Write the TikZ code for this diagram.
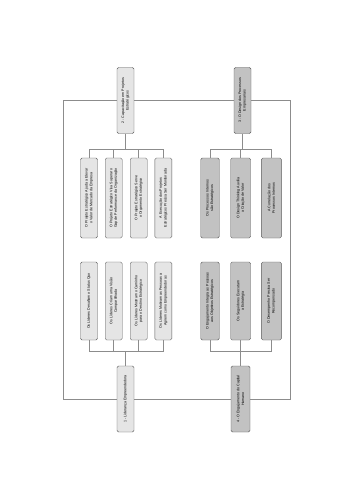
\documentclass[tikz,border=0pt]{standalone}
\usepackage{fontspec}
\setmainfont{Liberation Sans}
\usepackage{tikz}
\usetikzlibrary{positioning}

\begin{document}
\begin{tikzpicture}[
    x=1pt, y=-1pt,
    box/.style={draw=black!65, rectangle, rounded corners=1.5pt, rotate=90, align=center,
        font=\fontsize{3.6}{4.6}\selectfont, inner sep=1pt, line width=0.4pt},
    mainbox/.style={box, minimum width=66pt, minimum height=17pt},
    leaf/.style={box, minimum width=80pt, minimum height=17pt},
    lite/.style={fill=black!10},
    dark/.style={fill=black!24},
    link/.style={draw=black!45, line width=0.5pt}
]
\useasboundingbox (0,0) rectangle (348,500);
% 1. Main themes
\node[mainbox, lite] (lid) at (125.5,399) {1 - Liderança Empreendedora};
\node[mainbox, lite] (cap) at (125.5,100.5) {2 - Capacitação em Projetos\\Estratégicos};
\node[mainbox, dark] (des) at (242.5,100.5) {3 - O Design dos Processos\\Empresariais};
\node[mainbox, dark, minimum height=19pt] (eng) at (240.5,399) {4 - O Engajamento do Capital\\Humano};
% 2. Leaves of theme 2
\node[leaf, lite] (cap1) at (89,198) {O Projeto Estratégico Ajuda a Elevar\\o Valor de Mercado da Empresa};
\node[leaf, lite] (cap2) at (113.7,198) {O Projeto Estratégico Visa Superar o\\Gap de Performance da Organização};
\node[leaf, lite] (cap3) at (138.7,198) {O Projeto Estratégico Serve\\o Orçamento Estratégico};
\node[leaf, lite] (cap4) at (163.3,198) {A Execução dos Projetos\\Estratégicos Precisa Ser Monitorada};
% 3. Leaves of theme 3
\node[leaf, dark, minimum height=18.5pt] (des1) at (210,198) {Os Processos Internos\\são Estratégicos};
\node[leaf, dark, minimum height=20pt] (des2) at (240.7,198) {O Design Thinking Auxilia\\a Criação de Valor};
\node[leaf, dark, minimum height=20pt] (des3) at (271.3,198) {A Correlação dos\\Processos Internos};
% 4. Leaves of theme 1
\node[leaf, lite, minimum width=78pt] (lid1) at (89,301) {Os Líderes Desafiam o Status Quo};
\node[leaf, lite, minimum width=78pt] (lid2) at (113.7,301) {Os Líderes Criam uma Visão\\Compartilhada};
\node[leaf, lite, minimum width=78pt] (lid3) at (138.7,301) {Os Líderes Mostram o Caminho\\para o Destino Estratégico};
\node[leaf, lite, minimum width=78pt] (lid4) at (163.3,301) {Os Líderes Motivam as Pessoas a\\Agirem como Empreendedoras};
% 5. Leaves of theme 4
\node[leaf, dark, minimum width=78pt, minimum height=18.5pt] (eng1) at (210,301) {O Engajamento Integra as Pessoas\\aos Objetivos Estratégicos};
\node[leaf, dark, minimum width=78pt, minimum height=20pt] (eng2) at (240.7,301) {Os Seguidores Executam\\a Estratégia};
\node[leaf, dark, minimum width=78pt, minimum height=20pt] (eng3) at (271.3,301) {O Desempenho Precisa Ser\\Recompensado};
% --- Frame and junctions ---
\coordinate (tl) at (63,100.5);
\coordinate (tr) at (290,100.5);
\coordinate (br) at (290,399);
\coordinate (bl) at (63,399);
\coordinate (capbus) at (125.5,149);
\coordinate (desbus) at (242.5,149);
\coordinate (lidbus) at (125.5,351);
\coordinate (engbus) at (240.5,351);
% Frame round the four themes
\draw[link] (tl) -- (cap) -- (des) -- (tr) -- (br) -- (eng) -- (lid) -- (bl) -- (tl);
% Theme 2
\draw[link] (cap) -- (capbus);
\foreach \k in {cap1,cap2,cap3,cap4} \draw[link] (capbus) -| (\k);
% Theme 3
\draw[link] (des) -- (desbus);
\foreach \k in {des1,des2,des3} \draw[link] (desbus) -| (\k);
% Theme 1
\draw[link] (lid) -- (lidbus);
\foreach \k in {lid1,lid2,lid3,lid4} \draw[link] (lidbus) -| (\k);
% Theme 4
\draw[link] (eng) -- (engbus);
\foreach \k in {eng1,eng2,eng3} \draw[link] (engbus) -| (\k);
\end{tikzpicture}
\end{document}
